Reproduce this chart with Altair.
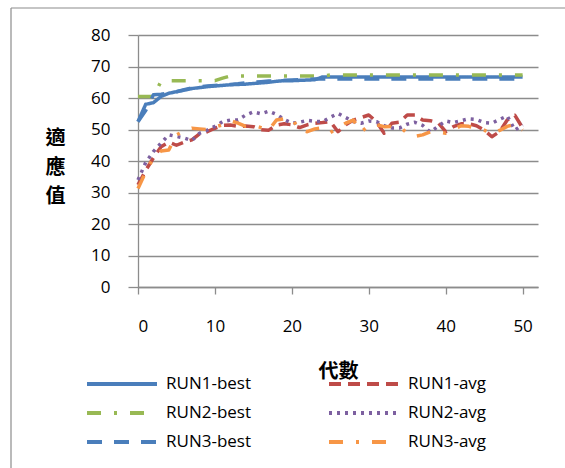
import altair as alt
import pandas as pd

# Generations 0..50
generations = list(range(51))

run1_best = [52.5, 58.0, 58.5, 60.5, 61.5, 62.0, 62.5, 63.0, 63.3, 63.6,
             63.8, 64.0, 64.2, 64.3, 64.4, 64.6, 64.8, 65.0, 65.3, 65.5,
             65.5, 65.6, 65.7, 65.8, 66.7, 66.7, 66.7, 66.7, 66.7, 66.7,
             66.7, 66.7, 66.7, 66.7, 66.7, 66.7, 66.7, 66.7, 66.7, 66.7,
             66.7, 66.7, 66.7, 66.7, 66.7, 66.7, 66.7, 66.7, 66.7, 66.7,
             66.7]
run1_avg = [32.4, 37.0, 41.0, 44.5, 46.0, 45.0, 46.0, 46.7, 48.6, 49.3,
            50.4, 51.3, 51.4, 51.0, 51.1, 50.9, 49.9, 49.8, 51.4, 51.8,
            51.5, 50.6, 51.5, 52.0, 52.2, 52.5, 49.3, 51.5, 53.0, 53.8,
            54.6, 52.5, 48.8, 52.0, 52.3, 54.6, 54.6, 53.0, 52.8, 52.2,
            49.3, 50.9, 51.8, 51.8, 51.2, 49.8, 47.7, 49.3, 53.0, 54.5,
            50.5]
run2_best = [60.5, 60.5, 60.5, 65.3, 65.5, 65.5, 65.5, 65.5, 65.5, 65.5,
             65.5, 66.3, 67.0, 67.0, 67.0, 67.0, 67.0, 67.0, 67.0, 67.0,
             67.0, 67.0, 67.0, 67.0, 67.0, 67.3, 67.3, 67.3, 67.3, 67.3,
             67.3, 67.3, 67.3, 67.3, 67.3, 67.3, 67.3, 67.3, 67.3, 67.3,
             67.3, 67.3, 67.3, 67.3, 67.3, 67.3, 67.3, 67.3, 67.3, 67.3,
             67.3]
run2_avg = [34.0, 39.5, 43.0, 45.7, 48.3, 47.8, 47.3, 46.5, 48.8, 49.8,
            51.0, 52.5, 53.0, 53.0, 54.6, 55.6, 55.0, 55.8, 54.8, 53.2,
            52.0, 52.3, 52.9, 52.6, 52.5, 53.9, 55.1, 53.8, 52.5, 52.0,
            52.7, 52.5, 51.2, 50.5, 50.5, 51.7, 52.3, 51.3, 49.2, 51.0,
            52.7, 52.2, 52.8, 53.4, 53.2, 52.2, 52.0, 53.2, 54.3, 49.8,
            51.5]
run3_best = [52.5, 56.0, 61.0, 61.2, 61.5, 62.0, 62.6, 63.2, 63.5, 63.8,
             64.0, 64.2, 64.3, 64.5, 64.8, 65.0, 65.2, 65.4, 65.5, 65.6,
             65.7, 65.8, 65.9, 66.0, 66.0, 66.0, 66.0, 66.0, 66.0, 66.0,
             66.0, 66.0, 66.0, 66.0, 66.0, 66.0, 66.0, 66.0, 66.0, 66.0,
             66.0, 66.0, 66.0, 66.0, 66.0, 66.0, 66.0, 66.0, 66.0, 66.0,
             66.0]
run3_avg = [31.3, 36.5, 41.0, 43.2, 43.5, 48.3, 49.5, 50.4, 50.2, 50.0,
            50.8, 51.5, 52.8, 52.0, 51.0, 51.3, 50.6, 49.8, 53.0, 53.4,
            53.5, 49.8, 49.3, 50.2, 50.6, 49.0, 50.6, 52.0, 53.0, 49.2,
            51.2, 51.5, 50.9, 51.0, 51.0, 48.8, 47.8, 48.3, 49.3, 49.2,
            48.8, 50.0, 51.2, 51.0, 50.4, 49.8, 48.6, 49.7, 51.0, 51.6,
            49.8]

# Legend fills column by column: best runs on the left, averages on the right
series_names = ["RUN1-best", "RUN2-best", "RUN3-best", "RUN1-avg", "RUN2-avg", "RUN3-avg"]
series_values = [run1_best, run2_best, run3_best, run1_avg, run2_avg, run3_avg]
series_colors = ["#4A7EBB", "#98B954", "#4A7EBB", "#BE4B48", "#7D60A0", "#F79646"]
series_dashes = [[1, 0], [14, 13, 3, 13], [15, 12], [12, 7], [3, 5], [14, 13, 3, 13]]

rows = []
for idx, (name, values) in enumerate(zip(series_names, series_values)):
    for g, v in zip(generations, values):
        rows.append({"gen": g, "value": v, "series": name, "order": idx})
df = pd.DataFrame(rows)

AXIS_GRAY = "#8c8c8c"
LABEL_FONT = "Open Sans"
CJK_FONT = "Noto Sans CJK TC"

legend = alt.Legend(
    title=None, orient="none", legendX=-53, legendY=339, columns=2,
    symbolType="stroke", symbolSize=4900, symbolStrokeWidth=4,
    clipHeight=20, rowPadding=9, columnPadding=76, labelOffset=7,
    labelFont=LABEL_FONT, labelFontSize=17, labelColor="black",
    labelLimit=0, padding=0,
)

lines = alt.Chart(df).mark_line(strokeWidth=3.5, strokeJoin="round").encode(
    x=alt.X("gen:Q", scale=alt.Scale(domain=[0, 52], nice=False, zero=False),
            axis=alt.Axis(values=[0, 10, 20, 30, 40, 50], title="代數", grid=False,
                          tickSize=7, tickColor=AXIS_GRAY, domainColor=AXIS_GRAY,
                          domainWidth=1.3, tickWidth=1.3,
                          labelPadding=24, labelFont=LABEL_FONT, labelFontSize=17,
                          labelColor="black",
                          titleFont=CJK_FONT, titleFontSize=20, titleFontWeight="bold",
                          titleColor="black", titleX=200, titleY=84,
                          titleBaseline="middle", titleAlign="center")),
    y=alt.Y("value:Q", scale=alt.Scale(domain=[0, 80], nice=False),
            axis=alt.Axis(values=list(range(0, 81, 10)), title=["適", "應", "值"],
                          titleAngle=0, titleX=-83, titleY=103, titleBaseline="middle",
                          titleAlign="center", titleLineHeight=29,
                          titleFont=CJK_FONT, titleFontSize=20, titleFontWeight="bold",
                          titleColor="black",
                          tickSize=10, tickColor=AXIS_GRAY, tickWidth=1.3,
                          domainColor=AXIS_GRAY, domainWidth=1.3,
                          labelPadding=18, labelFont=LABEL_FONT, labelFontSize=17,
                          labelColor="black",
                          grid=True, gridColor=AXIS_GRAY, gridWidth=1.3)),
    color=alt.Color("series:N", scale=alt.Scale(domain=series_names, range=series_colors),
                    legend=legend),
    strokeDash=alt.StrokeDash("series:N", scale=alt.Scale(domain=series_names, range=series_dashes),
                              legend=legend),
    order=alt.Order("order:Q"),
    detail="series:N",
)

# Outer frame of the chart area (left and top edges)
frame_df = pd.DataFrame({"k": [0]})
frame_left = alt.Chart(frame_df).mark_rule(color=AXIS_GRAY, strokeWidth=1.2).encode(
    x=alt.value(-127), y=alt.value(-27), y2=alt.value(440))
frame_top = alt.Chart(frame_df).mark_rule(color=AXIS_GRAY, strokeWidth=1.2).encode(
    x=alt.value(-127), x2=alt.value(440), y=alt.value(-27))

chart = alt.layer(lines, frame_left, frame_top).properties(
    width=400, height=252,
    autosize=alt.AutoSizeParams(type="none"),
    padding={"left": 138, "top": 35, "right": 27, "bottom": 181},
    background="white",
).configure_view(stroke=None)

chart.save("out.html", embed_options={"renderer": "svg", "actions": False})
